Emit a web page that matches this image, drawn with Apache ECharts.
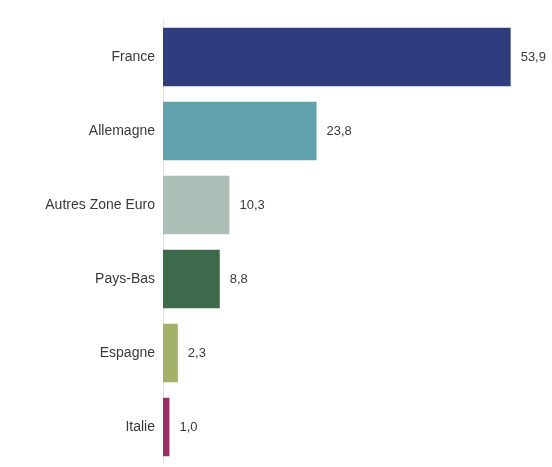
<!DOCTYPE html>
<html>
<head>
<meta charset="utf-8">
<script src="https://cdn.jsdelivr.net/npm/echarts@6/dist/echarts.min.js"></script>
<style>
  html, body { margin: 0; padding: 0; background: #fff; }
  #chart { width: 552px; height: 467px; }
</style>
</head>
<body>
<div id="chart"></div>
<script>
// donnees
const categories = ['France', 'Allemagne', 'Autres Zone Euro', 'Pays-Bas', 'Espagne', 'Italie'];
const values = [53.9, 23.8, 10.3, 8.8, 2.3, 1.0];
const colors = ['#2f3d7f', '#5fa2ac', '#abbfb7', '#3d6a4b', '#a3b068', '#9b2d66'];

const chart = echarts.init(document.getElementById('chart'));

const option = {
    animation: false,
    textStyle: { fontFamily: 'Liberation Sans, Arial, sans-serif' },
    grid: { left: 163, top: 20, width: 387, height: 444 },
    xAxis: {
        type: 'value',
        min: 0,
        max: 60,
        show: false
    },
    yAxis: {
        type: 'category',
        inverse: true,
        data: categories,
        axisLine: { show: true, lineStyle: { color: '#e2e2e2', width: 1 } },
        axisTick: { show: false },
        axisLabel: { color: '#3a3a3a', fontSize: 14, margin: 8 }
    },
    series: [{
        type: 'bar',
        barCategoryGap: '21%',
        data: values.map((v, i) => ({ value: v, itemStyle: { color: colors[i] } })),
        label: {
            show: true,
            position: 'right',
            distance: 10,
            color: '#3a3a3a',
            fontSize: 13,
            formatter: p => p.value.toFixed(1).replace('.', ',')
        }
    }]
};

chart.setOption(option);
</script>
</body>
</html>
